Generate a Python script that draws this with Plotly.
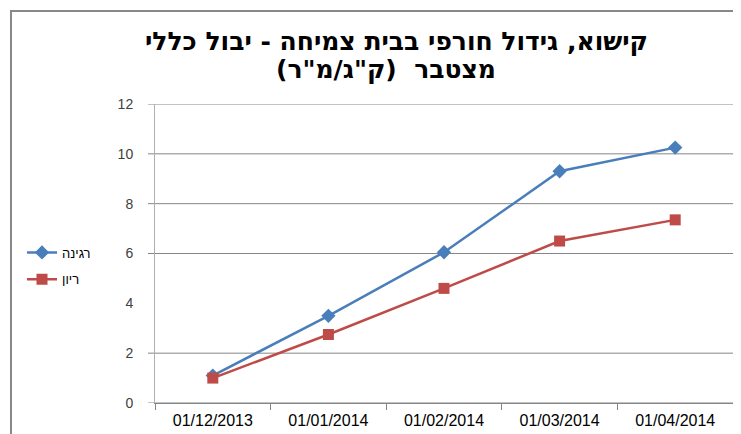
import plotly.graph_objects as go

dates = ["01/12/2013", "01/01/2014", "01/02/2014", "01/03/2014", "01/04/2014"]
regina = [1.1, 3.5, 6.05, 9.3, 10.25]
rayon = [1.0, 2.75, 4.6, 6.5, 7.35]
series_names = ["רגינה", "ריון"]
title_line1 = "קישוא, גידול חורפי בבית צמיחה - יבול כללי"
title_line2 = "מצטבר  (ק\"ג/מ\"ר)"
y_ticks = [0, 2, 4, 6, 8, 10, 12]
grid_values = [0, 2, 6, 8, 10, 12]

RLM = "\u200f"
OFF = 8  # page body margin
W, H = 741 - OFF, 434 - OFF
# plot area in screen pixels
SL, SR, ST, SB = 155, 733, 104, 403
L, R, T, B = SL - OFF, W - (SR - OFF), ST - OFF, H - (SB - OFF)
pw, ph = W - L - R, H - T - B


def px(sx):
    return (sx - SL) / pw


def py(sy):
    return (SB - sy) / ph


fig = go.Figure()
fig.add_trace(go.Scatter(
    x=dates, y=regina, name=series_names[0], mode="lines+markers",
    line=dict(color="#4A7EBB", width=2.5),
    marker=dict(symbol="diamond", size=11, color="#4A7EBB"),
    legendgroup="a",
))
fig.add_trace(go.Scatter(
    x=dates, y=rayon, name=series_names[1], mode="lines+markers",
    line=dict(color="#BE4B48", width=2.5),
    marker=dict(symbol="square", size=11, color="#BE4B48"),
    legendgroup="b",
))

shapes = []
for v in grid_values:
    shapes.append(dict(type="line", xref="paper", yref="y",
                       x0=px(148), x1=1, y0=v, y1=v,
                       line=dict(color="#868686", width=1), layer="below"))
# outer chart border
shapes.append(dict(type="rect", xref="paper", yref="paper",
                   x0=px(11), x1=px(760), y0=py(450), y1=py(11),
                   line=dict(color="#888888", width=2), fillcolor="rgba(0,0,0,0)",
                   layer="below"))

title_font = dict(size=25, family="DejaVu Sans, Liberation Sans, Arial, sans-serif",
                  color="#000000", weight="bold")
annotations = [
    dict(text=RLM + title_line1 + RLM, xref="paper", yref="paper",
         x=px(396), y=py(42), xanchor="center", yanchor="middle",
         showarrow=False, font=title_font),
    dict(text=RLM + title_line2 + RLM, xref="paper", yref="paper",
         x=px(386), y=py(69), xanchor="center", yanchor="middle",
         showarrow=False, font=title_font),
]

fig.update_layout(
    width=W, height=H,
    margin=dict(l=L, r=R, t=T, b=B, autoexpand=False),
    paper_bgcolor="white", plot_bgcolor="white",
    font=dict(family="Liberation Sans, Arial, sans-serif", color="#000000"),
    showlegend=True,
    legend=dict(
        x=(22 - OFF) / W, xanchor="left", xref="container",
        y=1 - (266 - OFF) / H, yanchor="middle", yref="container",
        font=dict(size=13, color="#000000"),
        traceorder="grouped", tracegroupgap=7,
        bgcolor="rgba(0,0,0,0)", itemwidth=30,
    ),
    shapes=shapes,
    annotations=annotations,
)
fig.update_xaxes(
    type="category", tickson="boundaries", ticks="outside", ticklen=6,
    tickcolor="#868686", showline=True, linecolor="#868686", linewidth=1,
    showgrid=False, zeroline=False, automargin=False,
    tickfont=dict(size=16, color="#000000"), ticklabelstandoff=3,
    range=[-0.5, len(dates) - 0.5],
)
fig.update_yaxes(
    range=[0, 12], tickvals=y_ticks, ticks="", showgrid=False, zeroline=False,
    showline=True, linecolor="#B0B0B0", linewidth=1, automargin=False,
    ticklabelstandoff=18,
    tickfont=dict(size=14, color="#404040"),
)

fig.write_html("out.html")
